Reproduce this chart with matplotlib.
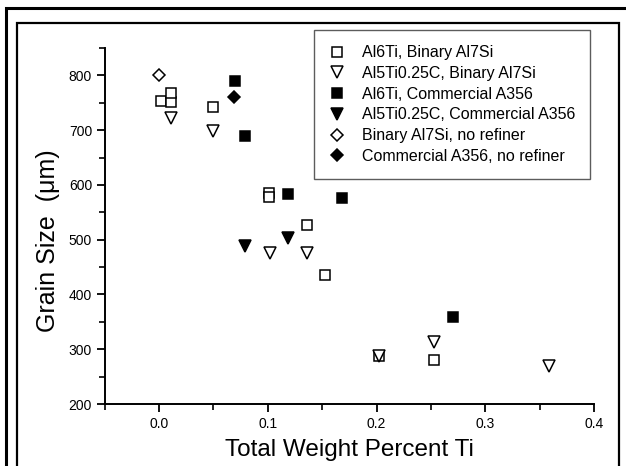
import matplotlib
matplotlib.use("Agg")
import matplotlib.pyplot as plt
from matplotlib.patches import Rectangle
from matplotlib.ticker import MultipleLocator

plt.rcParams['font.family'] = ['Liberation Sans', 'DejaVu Sans']

# Al6Ti added to binary Al7Si
al6ti_bin_x = [0.002, 0.011, 0.011, 0.050, 0.101, 0.101, 0.136, 0.153, 0.202, 0.2525]
al6ti_bin_y = [754, 752, 768, 742, 586, 578, 527, 436, 287, 281]

# Al5Ti0.25C added to binary Al7Si
al5ti_bin_x = [0.011, 0.050, 0.102, 0.136, 0.202, 0.2525, 0.359]
al5ti_bin_y = [723, 698, 475, 475, 287, 314, 270]

# Al6Ti added to commercial A356
al6ti_com_x = [0.070, 0.079, 0.119, 0.168, 0.270]
al6ti_com_y = [790, 689, 583, 577, 358]

# Al5Ti0.25C added to commercial A356
al5ti_com_x = [0.079, 0.119]
al5ti_com_y = [488, 503]

# Unrefined alloys
bin_none_x = [0.0]
bin_none_y = [800]
com_none_x = [0.069]
com_none_y = [760]

labels = ["Al6Ti, Binary Al7Si",
          "Al5Ti0.25C, Binary Al7Si",
          "Al6Ti, Commercial A356",
          "Al5Ti0.25C, Commercial A356",
          "Binary Al7Si, no refiner",
          "Commercial A356, no refiner"]

fig = plt.figure(figsize=(6.26, 4.66), dpi=100)
ax = fig.add_axes([0.167, 0.133, 0.782, 0.764])

ms = 7
mew = 1.1
series = [
    (al6ti_bin_x, al6ti_bin_y, 's', 'white', ms),
    (al5ti_bin_x, al5ti_bin_y, 'v', 'white', ms + 1),
    (al6ti_com_x, al6ti_com_y, 's', 'black', ms),
    (al5ti_com_x, al5ti_com_y, 'v', 'black', ms + 1),
    (bin_none_x, bin_none_y, 'D', 'white', ms - 1),
    (com_none_x, com_none_y, 'D', 'black', ms - 1),
]
handles = []
for (x, y, m, fc, s), lab in zip(series, labels):
    h, = ax.plot(x, y, linestyle='none', marker=m, markersize=s,
                 markerfacecolor=fc, markeredgecolor='black',
                 markeredgewidth=mew, label=lab)
    handles.append(h)

ax.set_xlim(-0.05, 0.4)
ax.set_ylim(200, 850)
ax.xaxis.set_minor_locator(MultipleLocator(0.05))
ax.yaxis.set_minor_locator(MultipleLocator(50))
ax.set_xticks([0.0, 0.1, 0.2, 0.3, 0.4])
ax.set_xticklabels(["0.0", "0.1", "0.2", "0.3", "0.4"])
ax.set_yticks([200, 300, 400, 500, 600, 700, 800])

for side in ('top', 'right'):
    ax.spines[side].set_visible(False)
for side in ('left', 'bottom'):
    ax.spines[side].set_linewidth(1.4)
ax.tick_params(which='major', direction='out', length=6, width=1.3,
               labelsize=10, pad=3)
ax.tick_params(which='minor', direction='out', length=4, width=1.2)

ax.set_xlabel("Total Weight Percent Ti", fontsize=17.5, labelpad=6)
ax.set_ylabel("Grain Size  (\u03bcm)", fontsize=18)
ax.yaxis.set_label_coords(-0.091, 0.46)

leg = fig.legend(handles=handles, loc='upper left',
                 bbox_to_anchor=(0.5016, 0.9356), bbox_transform=fig.transFigure,
                 frameon=True, fancybox=False, fontsize=11.5,
                 handlelength=1.0, handletextpad=1.05, labelspacing=0.36,
                 borderpad=0.95, borderaxespad=0.0)
leg.get_frame().set_edgecolor('#333333')
leg.get_frame().set_linewidth(1.0)

# Two nested frames around the figure
W, H = 626.0, 466.0
fig.patches.append(Rectangle((6 / W, -0.1), 1.2, (H - 8) / H + 0.1,
                             transform=fig.transFigure, fill=False,
                             edgecolor='black', linewidth=2.2))
fig.patches.append(Rectangle((17 / W, -0.1), (619 - 17) / W, (H - 23) / H + 0.1,
                             transform=fig.transFigure, fill=False,
                             edgecolor='black', linewidth=1.6))

fig.savefig("out.png", dpi=100)
